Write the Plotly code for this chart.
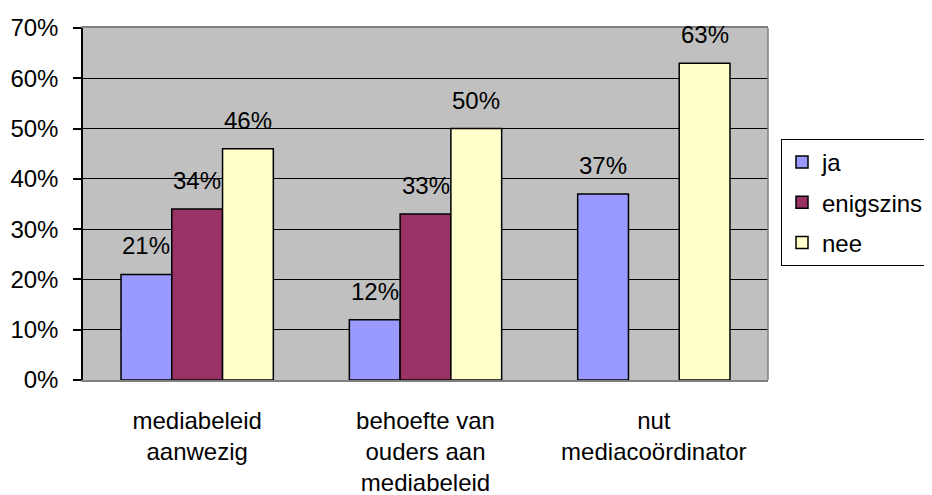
import plotly.graph_objects as go

categories = ["mediabeleid<br>aanwezig", "behoefte van<br>ouders aan<br>mediabeleid", "nut<br>mediacoördinator"]
series_names = ["ja", "enigszins", "nee"]
ja = [21, 12, 37]
enigszins = [34, 33, None]
nee = [46, 50, 63]
colors = ["#9999FF", "#993366", "#FFFFCC"]
ytick_vals = [0, 10, 20, 30, 40, 50, 60, 70]
ytick_text = ["0%", "10%", "20%", "30%", "40%", "50%", "60%", "70%"]

FONT = "Liberation Sans, Arial, sans-serif"
FS = 24
W, H = 932, 495
OFF = 8  # default page body margin

fig = go.Figure()
all_series = [ja, enigszins, nee]
for i, (name, vals, col) in enumerate(zip(series_names, all_series, colors)):
    fig.add_trace(go.Bar(
        x=categories, y=vals, name=name,
        marker=dict(color=col, line=dict(color="black", width=1.5)),
        legendgroup=name,
    ))

# value labels
n = len(series_names)
for i, vals in enumerate(all_series):
    for c, v in zip(categories, vals):
        if v is None:
            continue
        fig.add_annotation(
            x=c, y=v, text=f"{v}%", showarrow=False,
            xref="x", yref="y", yanchor="bottom",
            xshift=(i - (n - 1) / 2) * 50.7, yshift=13,
            font=dict(family=FONT, size=FS, color="black"),
        )

fig.update_layout(
    width=W, height=H,
    margin=dict(l=83 - OFF, r=W - (768 - OFF), t=28 - OFF, b=H - (380 - OFF)),
    paper_bgcolor="white", plot_bgcolor="#C0C0C0",
    barmode="group", bargap=0.333, bargroupgap=0,
    font=dict(family=FONT, size=FS, color="black"),
    showlegend=True,
    legend=dict(
        xref="container", yref="container",
        x=(781 - OFF) / W, xanchor="left", y=1 - (139 - OFF) / H, yanchor="top",
        bordercolor="black", borderwidth=1, bgcolor="white",
        font=dict(family=FONT, size=FS, color="black"),
        tracegroupgap=6, traceorder="grouped", itemwidth=30,
    ),
)
fig.update_yaxes(
    range=[0, 70], tickvals=ytick_vals, ticktext=ytick_text,
    showgrid=True, gridcolor="black", gridwidth=1.2,
    showline=True, linecolor="black", linewidth=1.5,
    ticks="outside", ticklen=8, tickcolor="black", tickwidth=1.5,
    ticklabelstandoff=10, zeroline=False, automargin=False,
)
fig.update_xaxes(
    showline=True, linecolor="#808080", linewidth=1.5, mirror=True,
    ticks="", showgrid=False, ticklabelstandoff=18, automargin=False,
)
fig.add_shape(type="line", xref="paper", yref="paper", x0=1, x1=1, y0=0, y1=1,
              line=dict(color="#808080", width=1.5))

fig.write_html("out.html")
